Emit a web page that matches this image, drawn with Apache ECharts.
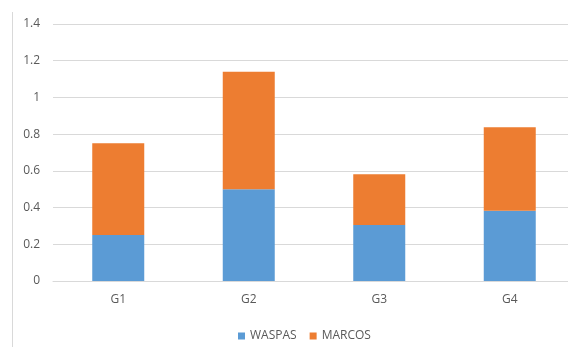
<!DOCTYPE html>
<html>
<head>
<meta charset="utf-8">
<script src="https://cdn.jsdelivr.net/npm/echarts@6/dist/echarts.min.js"></script>
<style>
  html, body { margin: 0; padding: 0; background: #fff; overflow: hidden; }
  #chart { width: 580px; height: 347px; }
</style>
</head>
<body>
<div id="chart"></div>
<script>
// 数据
const categories = ['G1', 'G2', 'G3', 'G4']
const waspas = [0.25, 0.50, 0.305, 0.383]
const marcos = [0.50, 0.64, 0.276, 0.454]
const colors = ['#5B9BD5', '#ED7D31']
const textColor = '#595959'

// 原图右侧被裁掉一部分，所以容器比窗口略宽
const chart = echarts.init(document.getElementById('chart'))
chart.setOption({
  animation: false,
  color: colors,
  textStyle: { fontFamily: 'Open Sans, sans-serif' },
  grid: { left: 53, top: 24, width: 522, height: 257 },
  graphic: [
    {
      type: 'line',
      shape: { x1: 12.5, y1: 12, x2: 12.5, y2: 347 },
      style: { stroke: '#d9d9d9', lineWidth: 1 }
    }
  ],
  legend: {
    data: ['WASPAS', 'MARCOS'],
    left: 233,
    top: 325,
    itemWidth: 7,
    itemHeight: 7,
    itemGap: 13,
    icon: 'rect',
    textStyle: { color: textColor, fontSize: 12 }
  },
  xAxis: {
    type: 'category',
    data: categories,
    axisLine: { lineStyle: { color: '#d9d9d9' } },
    axisTick: { show: false },
    axisLabel: { color: textColor, fontSize: 12, margin: 13 }
  },
  yAxis: {
    type: 'value',
    min: 0,
    max: 1.4,
    interval: 0.2,
    axisLine: { show: false },
    axisTick: { show: false },
    splitLine: { lineStyle: { color: '#d9d9d9' } },
    axisLabel: { color: textColor, fontSize: 12, margin: 13 }
  },
  series: [
    { name: 'WASPAS', type: 'bar', stack: 'total', barWidth: 52, data: waspas },
    { name: 'MARCOS', type: 'bar', stack: 'total', barWidth: 52, data: marcos }
  ]
})
</script>
</body>
</html>
